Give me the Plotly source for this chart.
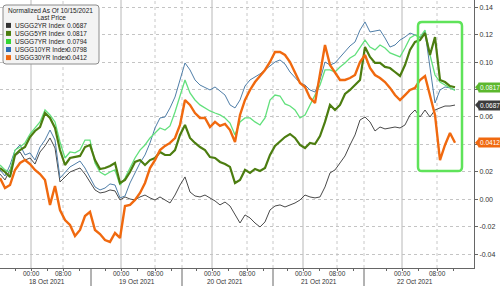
import plotly.graph_objects as go

# ---------------- data ----------------
SERIES_NAMES = ["USGG2YR Index", "USGG5YR Index", "USGG7YR Index", "USGG10YR Index", "USGG30YR Index"]

US2Y = [0.0184, 0.0141, 0.0214, 0.0316, 0.0345, 0.0286, 0.0301, 0.0257, 0.0345, 0.0389,
        0.0447, 0.0374, 0.0126, 0.0163, 0.0199, 0.0214, 0.0228, 0.0184, 0.0126, 0.0068,
        0.0046, 0.0053, 0.0068, 0.0061, -0.0005, 0.0017, 0.0002, -0.0005, 0.0017, 0.0031,
        0.0010, -0.0005, 0.0017, -0.0005, -0.0027, 0.0031, 0.0104, 0.0163, 0.0053, 0.0024,
        0.0017, 0.0031, 0.0010, -0.0012, -0.0041, -0.0020, -0.0049, -0.0114, -0.0173, -0.0114,
        -0.0136, -0.0173, -0.0202, -0.0165, -0.0078, -0.0049, -0.0041, -0.0056, -0.0041, -0.0027,
        -0.0005, 0.0031, 0.0017, 0.0010, 0.0017, 0.0090, 0.0192, 0.0214, 0.0265, 0.0316,
        0.0396, 0.0469, 0.0578, 0.0600, 0.0564, 0.0498, 0.0527, 0.0513, 0.0520, 0.0527,
        0.0520, 0.0542, 0.0615, 0.0651, 0.0600, 0.0651, 0.0600, 0.0651, 0.0666, 0.0680,
        0.0680, 0.0687]

US5Y = [0.0228, 0.0199, 0.0163, 0.0323, 0.0359, 0.0381, 0.0454, 0.0498, 0.0527, 0.0629,
        0.0593, 0.0520, 0.0359, 0.0250, 0.0301, 0.0308, 0.0316, 0.0381, 0.0396, 0.0286,
        0.0221, 0.0228, 0.0243, 0.0265, 0.0119, 0.0141, 0.0199, 0.0272, 0.0286, 0.0250,
        0.0286, 0.0301, 0.0345, 0.0323, 0.0323, 0.0359, 0.0469, 0.0542, 0.0447, 0.0411,
        0.0381, 0.0359, 0.0308, 0.0301, 0.0272, 0.0257, 0.0236, 0.0119, 0.0141, 0.0214,
        0.0192, 0.0221, 0.0206, 0.0228, 0.0323, 0.0389, 0.0418, 0.0454, 0.0476, 0.0447,
        0.0396, 0.0374, 0.0411, 0.0403, 0.0461, 0.0564, 0.0688, 0.0651, 0.0688, 0.0768,
        0.0797, 0.0833, 0.0870, 0.1110, 0.1038, 0.0994, 0.0994, 0.0965, 0.0957, 0.0928,
        0.0899, 0.0979, 0.1089, 0.1147, 0.1161, 0.1212, 0.1052, 0.1183, 0.0870, 0.0855,
        0.0826, 0.0817]

US7Y = [0.0250, 0.0214, 0.0199, 0.0359, 0.0381, 0.0411, 0.0476, 0.0520, 0.0564, 0.0651,
        0.0615, 0.0564, 0.0418, 0.0301, 0.0345, 0.0338, 0.0359, 0.0432, 0.0432, 0.0265,
        0.0199, 0.0177, 0.0199, 0.0214, 0.0104, 0.0155, 0.0228, 0.0301, 0.0359, 0.0396,
        0.0447, 0.0483, 0.0520, 0.0505, 0.0535, 0.0636, 0.0760, 0.0870, 0.0775, 0.0724,
        0.0688, 0.0666, 0.0644, 0.0629, 0.0615, 0.0593, 0.0556, 0.0469, 0.0564, 0.0593,
        0.0593, 0.0564, 0.0542, 0.0593, 0.0724, 0.0760, 0.0753, 0.0695, 0.0680, 0.0651,
        0.0593, 0.0615, 0.0688, 0.0760, 0.0833, 0.0943, 0.0943, 0.0928, 0.0965, 0.0994,
        0.1030, 0.1052, 0.1103, 0.1161, 0.1110, 0.1089, 0.1125, 0.1103, 0.1067, 0.1052,
        0.1038, 0.1103, 0.1176, 0.1198, 0.1183, 0.1234, 0.1052, 0.0906, 0.0855, 0.0833,
        0.0812, 0.0794]

US10Y = [0.0214, 0.0170, 0.0250, 0.0359, 0.0396, 0.0323, 0.0338, 0.0286, 0.0381, 0.0432,
         0.0505, 0.0432, 0.0155, 0.0199, 0.0236, 0.0257, 0.0279, 0.0228, 0.0155, 0.0090,
         0.0068, 0.0082, 0.0112, 0.0104, 0.0010, 0.0024, 0.0119, 0.0192, 0.0265, 0.0323,
         0.0411, 0.0520, 0.0593, 0.0600, 0.0666, 0.0746, 0.0870, 0.0994, 0.0943, 0.0870,
         0.0833, 0.0812, 0.0797, 0.0819, 0.0790, 0.0760, 0.0688, 0.0666, 0.0724, 0.0826,
         0.0870, 0.0892, 0.0914, 0.0943, 0.0972, 0.1001, 0.1016, 0.0986, 0.0928, 0.0884,
         0.0848, 0.0833, 0.0797, 0.0782, 0.0870, 0.1001, 0.0979, 0.0994, 0.1038, 0.1074,
         0.1118, 0.1147, 0.1234, 0.1293, 0.1220, 0.1227, 0.1234, 0.1176, 0.1110, 0.1125,
         0.1161, 0.1183, 0.1212, 0.1198, 0.1176, 0.1220, 0.0979, 0.0702, 0.0797, 0.0819,
         0.0812, 0.0798]

US30Y = [0.0155, 0.0082, 0.0104, 0.0214, 0.0265, 0.0286, 0.0257, 0.0214, 0.0184, 0.0141,
         -0.0041, 0.0097, -0.0078, -0.0151, -0.0187, -0.0267, -0.0224, -0.0122, -0.0092, -0.0224,
         -0.0253, -0.0297, -0.0311, -0.0246, -0.0282, -0.0049, -0.0041, -0.0005, 0.0046, 0.0119,
         0.0228, 0.0286, 0.0359, 0.0389, 0.0411, 0.0447, 0.0542, 0.0724, 0.0688, 0.0629,
         0.0593, 0.0593, 0.0527, 0.0564, 0.0535, 0.0549, 0.0505, 0.0418, 0.0615, 0.0724,
         0.0797, 0.0855, 0.0899, 0.0943, 0.1001, 0.1074, 0.1074, 0.1052, 0.1001, 0.0928,
         0.0848, 0.0819, 0.0739, 0.0702, 0.0906, 0.1125, 0.0979, 0.0928, 0.0870, 0.0870,
         0.0884, 0.0906, 0.1001, 0.1052, 0.0957, 0.0906, 0.0884, 0.0855, 0.0812, 0.0760,
         0.0724, 0.0760, 0.0797, 0.0812, 0.0870, 0.0899, 0.0760, 0.0615, 0.0286, 0.0396,
         0.0483, 0.0412]

# x axis (sample-index units)
TIME_LABELS = ["00:00", "08:00"] * 5
TIME_POS = [6.2, 12.6, 24.2, 31.0, 42.4, 49.4, 60.6, 67.4, 80.4, 87.4]
DATE_LABELS = ["18 Oct 2021", "19 Oct 2021", "20 Oct 2021", "21 Oct 2021", "22 Oct 2021"]
DATE_POS = [9.4, 27.4, 45.0, 63.7, 83.0]
SEP_POS = [18.2, 36.4, 54.6, 72.8]
MINOR_POS = [3.0, 9.4, 15.8, 21.0, 27.4, 34.2, 39.2, 45.6, 52.6, 57.4, 63.8, 70.6, 77.2, 83.6, 90.6]
Y_TICKS = [-0.04, -0.02, 0.00, 0.02, 0.04, 0.06, 0.08, 0.10, 0.12, 0.14]
# 0.04 and 0.08 are covered by the last-value tags in the reference
Y_LABELS = ["-0.04", "-0.02", "0.00", "0.02", "", "0.06", "", "0.10", "0.12", "0.14"]

LINE_COLORS = ["#4a4a4a", "#4c7d10", "#62e07c", "#4f7ea8", "#f0690f"]
LEGEND_COLORS = ["#333333", "#4c7d10", "#33d633", "#2f6db3", "#f0690f"]
LINE_WIDTHS = [1.0, 2.2, 1.3, 1.0, 2.4]

SERIES = [US2Y, US5Y, US7Y, US10Y, US30Y]

FONT = "Liberation Sans"
FS = 6.5
W, H = 500, 286
PL, PR, PT, PB = 0, 26, 0, 18
PW, PH = W - PL - PR, H - PT - PB


def px(p):
    return p / PW


def py(p):
    return (PH - p) / PH


fig = go.Figure()
x = list(range(len(US2Y)))
for i in [0, 3, 2, 1, 4]:
    fig.add_trace(go.Scatter(x=x, y=SERIES[i], mode="lines", name=SERIES_NAMES[i],
                             line=dict(color=LINE_COLORS[i], width=LINE_WIDTHS[i]),
                             hoverinfo="skip"))

shapes = []
# vertical gridlines
for k, p in enumerate(TIME_POS):
    solid = (k % 2 == 0)
    shapes.append(dict(type="line", xref="x", yref="paper", x0=p, x1=p, y0=0, y1=1,
                       line=dict(color="#b8b8b8" if solid else "#c8c8c8", width=1,
                                 dash="solid" if solid else "dot"), layer="below"))
for p in SEP_POS[1:]:
    shapes.append(dict(type="line", xref="x", yref="paper", x0=p, x1=p, y0=0, y1=1,
                       line=dict(color="#c8c8c8", width=1, dash="dot"), layer="below"))
# day separators under the axis
for p in SEP_POS:
    shapes.append(dict(type="line", xref="x", yref="paper", x0=p, x1=p, y0=0, y1=-PB / PH,
                       line=dict(color="#666666", width=1)))

# green highlight box (rounded)
gx0, gx1, gy0, gy1 = 83.6, 92.4, 0.0206, 0.1293
rx, ry = 0.8, 0.003
gpath = (f"M {gx0+rx},{gy1} L {gx1-rx},{gy1} Q {gx1},{gy1} {gx1},{gy1-ry} "
         f"L {gx1},{gy0+ry} Q {gx1},{gy0} {gx1-rx},{gy0} L {gx0+rx},{gy0} "
         f"Q {gx0},{gy0} {gx0},{gy0+ry} L {gx0},{gy1-ry} Q {gx0},{gy1} {gx0+rx},{gy1} Z")
shapes.append(dict(type="path", xref="x", yref="y", path=gpath,
                   line=dict(color="#5fe35a", width=2.5), layer="above"))

# legend box
lx0, lx1, ly0, ly1 = 3, 99, 5, 64
r = 3
lpath = (f"M {px(lx0+r)},{py(ly0)} L {px(lx1-r)},{py(ly0)} Q {px(lx1)},{py(ly0)} {px(lx1)},{py(ly0+r)} "
         f"L {px(lx1)},{py(ly1-r)} Q {px(lx1)},{py(ly1)} {px(lx1-r)},{py(ly1)} L {px(lx0+r)},{py(ly1)} "
         f"Q {px(lx0)},{py(ly1)} {px(lx0)},{py(ly1-r)} L {px(lx0)},{py(ly0+r)} Q {px(lx0)},{py(ly0)} {px(lx0+r)},{py(ly0)} Z")
shapes.append(dict(type="path", xref="paper", yref="paper", path=lpath,
                   line=dict(color="#8c8c8c", width=1), fillcolor="#f3f3f3", layer="above"))

annotations = []
annotations.append(dict(xref="paper", yref="paper", x=px(5.5), y=py(10), xanchor="left", yanchor="middle",
                        text="Normalized As Of 10/15/2021", showarrow=False,
                        font=dict(family=FONT, size=FS, color="#1a1a1a")))
annotations.append(dict(xref="paper", yref="paper", x=px(51), y=py(17.5), xanchor="center", yanchor="middle",
                        text="Last Price", showarrow=False,
                        font=dict(family=FONT, size=FS, color="#1a1a1a")))
row_y = [25.4, 33.4, 41.5, 49.5, 57.6]
for i in range(5):
    yc = row_y[i]
    shapes.append(dict(type="rect", xref="paper", yref="paper", x0=px(6), x1=px(11),
                       y0=py(yc + 2.5), y1=py(yc - 2.5), line=dict(width=0),
                       fillcolor=LEGEND_COLORS[i], layer="above"))
    annotations.append(dict(xref="paper", yref="paper", x=px(13), y=py(yc), xanchor="left", yanchor="middle",
                            text=SERIES_NAMES[i], showarrow=False,
                            font=dict(family=FONT, size=FS, color="#1a1a1a")))
    annotations.append(dict(xref="paper", yref="paper", x=px(65), y=py(yc), xanchor="left", yanchor="middle",
                            text=f"{SERIES[i][-1]:.4f}", showarrow=False,
                            font=dict(family=FONT, size=FS, color="#1a1a1a")))

# time labels and date labels under the axis
for lab, p in zip(TIME_LABELS, TIME_POS):
    annotations.append(dict(xref="x", yref="paper", x=p, y=py(273.5), xanchor="center", yanchor="middle",
                            text=lab, showarrow=False, font=dict(family=FONT, size=FS, color="#333333")))
for lab, p in zip(DATE_LABELS, DATE_POS):
    annotations.append(dict(xref="x", yref="paper", x=p, y=py(281.5), xanchor="center", yanchor="middle",
                            text=lab, showarrow=False, font=dict(family=FONT, size=FS, color="#333333")))

# last-value tags
TAGS = [(1, "#5cb82e"), (0, "#3c3c3c"), (4, "#f0690f")]
for idx, col in TAGS:
    v = SERIES[idx][-1]
    shapes.append(dict(type="path", xref="paper", yref="y", xsizemode="pixel", ysizemode="pixel",
                       xanchor=1, yanchor=v, path="M 1,0 L 5,4.5 L 5,-4.5 Z",
                       fillcolor=col, line=dict(width=0)))
    annotations.append(dict(xref="paper", yref="y", x=1, xshift=4, y=v, xanchor="left", yanchor="middle",
                            text=f"{v:.4f}", showarrow=False, bgcolor=col, borderpad=1,
                            font=dict(family=FONT, size=FS, color="#ffffff")))

fig.update_layout(
    width=W, height=H, margin=dict(l=PL, r=PR, t=PT, b=PB, pad=0),
    plot_bgcolor="white", paper_bgcolor="white", showlegend=False,
    font=dict(family=FONT, size=FS, color="#333333"),
    shapes=shapes, annotations=annotations,
    xaxis=dict(range=[0, PW / 5], tickmode="array", tickvals=TIME_POS, showticklabels=False,
               showgrid=False, zeroline=False, showline=True, linecolor="#666666", linewidth=1,
               ticks="outside", ticklen=2, tickcolor="#666666",
               minor=dict(tickvals=MINOR_POS, ticks="outside", ticklen=2, tickcolor="#666666", showgrid=False),
               fixedrange=True),
    yaxis=dict(side="right", range=[-0.0501, 0.1453], tickmode="array", tickvals=Y_TICKS, ticktext=Y_LABELS,
               showgrid=True, gridcolor="#c4c4c4", griddash="dot", gridwidth=1, zeroline=False,
               showline=True, linecolor="#666666", linewidth=1, ticks="outside", ticklen=3,
               tickcolor="#666666", tickfont=dict(family=FONT, size=FS + 0.5, color="#333333"),
               fixedrange=True),
)

fig.write_html("out.html")
